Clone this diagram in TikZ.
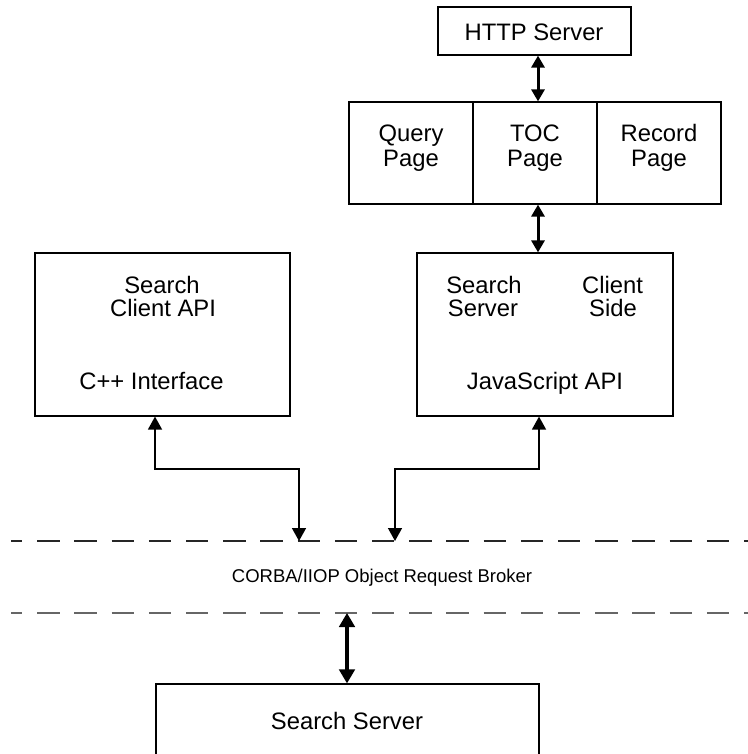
\documentclass[tikz,border=0pt]{standalone}
\usepackage{fontspec}
\setmainfont{Liberation Sans}
\usetikzlibrary{arrows.meta}
\begin{document}
\begin{tikzpicture}[x=1pt,y=-1pt,
  box/.style={draw,line width=1.2pt,inner sep=0pt},
  lbl/.style={font=\fontsize{23.8}{25}\selectfont,anchor=base,inner sep=0pt},
  smalllbl/.style={font=\fontsize{18.5}{20}\selectfont,anchor=base,inner sep=0pt},
  thickarr/.style={line width=3pt,{Triangle[width=13pt,length=12pt]}-{Triangle[width=13pt,length=12pt]}},
  bigarr/.style={line width=3.2pt,{Triangle[width=15.5pt,length=14pt]}-{Triangle[width=15.5pt,length=14pt]}},
  thinarr/.style={line width=1.5pt,{Triangle[width=14pt,length=13pt]}-{Triangle[width=14pt,length=13pt]}},
  brokerline/.style={line width=1.3pt,dash pattern=on 22.3pt off 14.9pt,dash phase=11pt}]
\useasboundingbox (0,0) rectangle (747,754);
% boxes
\node[box,minimum width=193pt,minimum height=48pt] (http) at (534.5,31) {};
\node[box,minimum width=124pt,minimum height=102pt] (query) at (411,153) {};
\node[box,minimum width=124pt,minimum height=102pt] (toc) at (535,153) {};
\node[box,minimum width=124pt,minimum height=102pt] (record) at (659,153) {};
\node[box,minimum width=255pt,minimum height=163pt] (lbox) at (162.5,334.5) {};
\node[box,minimum width=256pt,minimum height=163pt] (jsbox) at (545,334.5) {};
\node[box,minimum width=383pt,minimum height=116pt] (sserver) at (347.5,742) {};
% labels
\node[lbl] (t1) at (534,41) {HTTP Server};
\node[lbl] (t2) at (411,142) {Query};
\node[lbl] (t3) at (411,167) {Page};
\node[lbl] (t4) at (535,142) {TOC};
\node[lbl] (t5) at (535,167) {Page};
\node[lbl] (t6) at (659,142) {Record};
\node[lbl] (t7) at (659,167) {Page};
\node[lbl] (t8) at (162,293) {Search};
\node[lbl] (t9) at (163,316) {Client API};
\node[lbl] (t10) at (151.5,389) {C++ Interface};
\node[lbl] (t11) at (484,293) {Search};
\node[lbl] (t12) at (483,316) {Server};
\node[lbl] (t13) at (612.5,293) {Client};
\node[lbl] (t14) at (613,316) {Side};
\node[lbl] (t15) at (545,389) {JavaScript API};
\node[lbl] (t16) at (347,729) {Search Server};
\node[smalllbl] (corba) at (382,582) {CORBA/IIOP Object Request Broker};
% broker lines
\coordinate (d1s) at (11,541);
\coordinate (d1e) at (760,541);
\coordinate (d2s) at (11,613);
\coordinate (d2e) at (760,613);
\draw[brokerline,black!85] (d1s) -- (d1e);
\draw[brokerline,black!60] (d2s) -- (d2e);
% connectors
\coordinate (ax) at (538,0);
\draw[thickarr] (http.south -| ax) -- (toc.north -| ax);
\draw[thickarr] (toc.south -| ax) -- (jsbox.north -| ax);
\coordinate (e) at (0,469);
\coordinate (l1) at (155,0);
\coordinate (b1) at (299,541);
\coordinate (r1) at (539,0);
\coordinate (b2) at (395,541);
\draw[thinarr] (lbox.south -| l1) -- (l1 |- e) -| (b1);
\draw[thinarr] (jsbox.south -| r1) -- (r1 |- e) -| (b2);
\coordinate (bx) at (347,613);
\draw[bigarr] (bx) -- (sserver.north -| bx);
\end{tikzpicture}
\end{document}
